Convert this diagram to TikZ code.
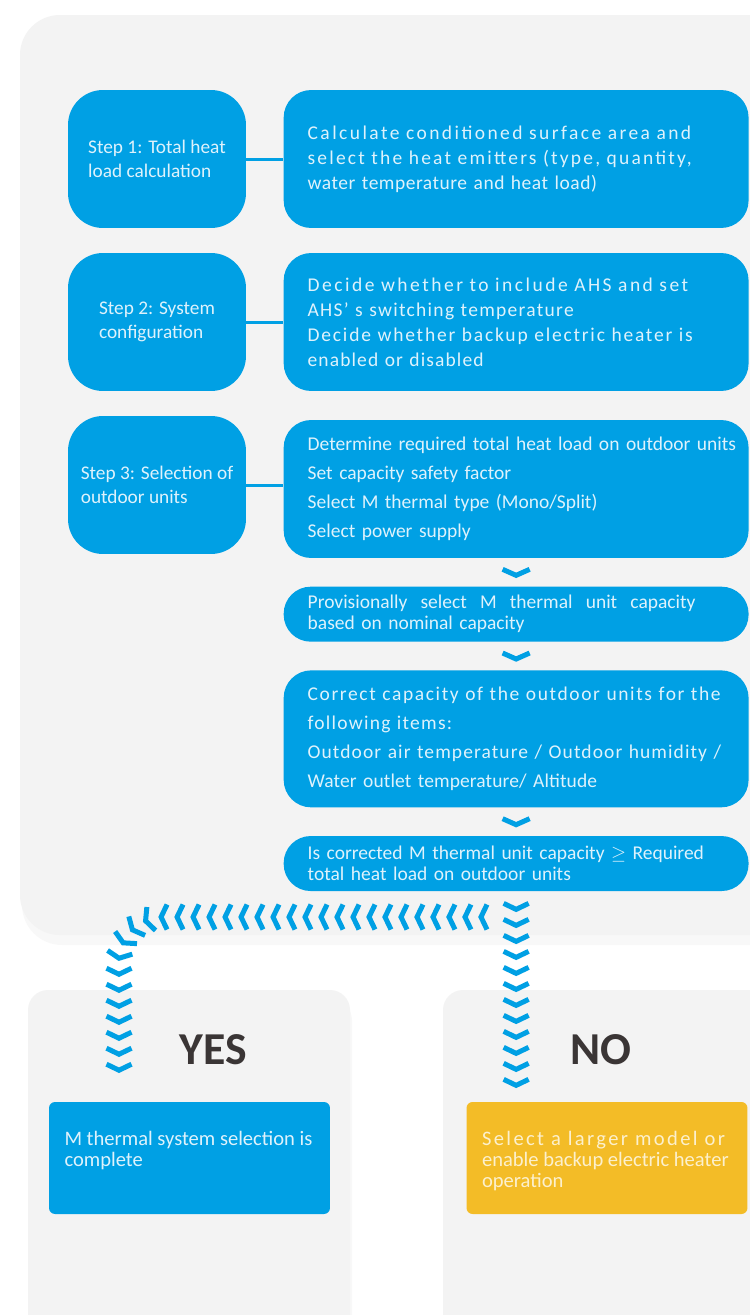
\documentclass[tikz,border=0pt]{standalone}
\usepackage{fontspec}
\setmainfont{Carlito}
\usepackage{tikz}
\usetikzlibrary{positioning, calc, decorations.markings, shadows}
\definecolor{mblue}{RGB}{0,160,228}
\definecolor{myellow}{RGB}{243,188,39}
\definecolor{panel}{RGB}{243,243,243}
\definecolor{softtext}{RGB}{222,242,252}
\definecolor{softcream}{RGB}{252,240,205}
\definecolor{darktext}{RGB}{58,53,53}
\tikzstyle{panelbox} = [fill=panel, draw=none, drop shadow={opacity=0.05, shadow xshift=0.04cm, shadow yshift=-0.2cm}]
\tikzstyle{chevron} = [draw=mblue, line width=0.1cm, sharp corners, miter limit=10]
\newcommand{\ls}[1]{\addfontfeature{LetterSpace=#1}}
\newcommand{\resulttext}[1]{\parbox[c][2.24cm][t]{5.0cm}{\raggedright\vspace*{0.58cm}#1}}

\begin{document}
\begin{tikzpicture}[x=0.02cm, y=-0.02cm, node distance=0.74cm,
		stepbox/.style={rectangle, fill=mblue, text=softtext, minimum width=3.56cm, minimum height=2.76cm, rounded corners=0.7cm, align=left, font=\fontsize{11}{13.6}\selectfont},
		detailbox/.style={rectangle, fill=mblue, text=softtext, text width=9.1cm, inner xsep=0.1cm, minimum height=2.76cm, rounded corners=0.55cm, align=left, execute at begin node={\leftskip=0.38cm}, font=\fontsize{11.1}{14.2}\selectfont},
		pillbox/.style={detailbox, minimum height=1.1cm, inner ysep=0.1cm, rounded corners=0.54cm, font=\fontsize{11.1}{11.9}\selectfont},
		resultbox/.style={rectangle, minimum width=5.62cm, minimum height=2.24cm, inner xsep=0.31cm, inner ysep=0pt, rounded corners=0.12cm, font=\fontsize{11.7}{12}\selectfont},
		answer/.style={text=darktext, font=\fontsize{26}{30}\selectfont\bfseries},
		link/.style={draw=mblue, line width=0.06cm},
		chevron chain/.style={decorate, decoration={markings, mark=between positions #1 and 1 step 0.32cm with {\draw[chevron] (-0.06cm,0.25cm) -- (0.06cm,0) -- (-0.06cm,-0.25cm);}}},
		chevron chain/.default=0cm,
		gap chevron/.style={decorate, decoration={markings, mark=at position 0.5 with {\draw[chevron] (-0.06cm,0.27cm) -- (0.06cm,0) -- (-0.06cm,-0.27cm);}}}]
		
		\useasboundingbox (0,0) rectangle (750,1315);
		\clip (0,0) rectangle (750,1315);
		\fill[white] (0,0) rectangle (750,1315);
		\path[panelbox, rounded corners=0.8cm] (20,15) rectangle (820,935);
		\path[panelbox, rounded corners=0.4cm] (28,990) rectangle (350,1380);
		\path[panelbox, rounded corners=0.4cm] (443,990) rectangle (820,1380);
		
		\node (step1) [stepbox] at (157,159) {Step 1: Total heat\\load calculation};
		\node (calc) [detailbox, right=of step1] {{\ls{12.5}Calculate conditioned surface area and}\\{\ls{11.3}select the heat emitters (type, quantity,}\\{\ls{2.6}water temperature and heat load)}};
		\node (step2) [stepbox] at (157,322) {Step 2: System\\configuration};
		\node (config) [detailbox, right=of step2] {{\ls{12.8}Decide whether to include AHS and set}\\{\ls{6.6}AHS’ s switching temperature}\\{\ls{9.2}Decide whether backup electric heater is}\\{\ls{5.7}enabled or disabled}};
		\node (step3) [stepbox] at (157,485) {Step 3: Selection of\\outdoor units};
		\node (units) [detailbox, right=of step3, yshift=-0.08cm, font=\fontsize{11.1}{16.4}\selectfont] {Determine required total heat load on outdoor units\\Set capacity safety factor\\Select M thermal type (Mono/Split)\\Select power supply};
		
		\draw[link] (step1) -- (calc);
		\draw[link] (step2) -- (config);
		\draw[link] (step3.east) -- (step3.east -| units.west);
		
		\node (prov) [pillbox, below=0.56cm of units] {\makebox[7.76cm][l]{Provisionally\hfill select\hfill M\hfill thermal\hfill unit\hfill capacity}\\based on nominal capacity};
		\node (correct) [detailbox, below=0.56cm of prov, minimum height=2.74cm, font=\fontsize{11.1}{16.4}\selectfont] {{\ls{8.3}Correct capacity of the outdoor units for the}\\{\ls{6.4}following items:}\\{\ls{5.6}Outdoor air temperature / Outdoor humidity /}\\{\ls{0.5}Water outlet temperature/ Altitude}};
		\node (check) [pillbox, below=0.56cm of correct] {Is corrected M thermal unit capacity $\geq$ Required\\total heat load on outdoor units};
		
		\path[gap chevron] (units.south) -- (units.south |- prov.north);
		\path[gap chevron] (prov.south) -- (prov.south |- correct.north);
		\path[gap chevron] (correct.south) -- (correct.south |- check.north);
		
		\node (yes) [answer] at (213,1050) {YES};
		\node (no) [answer] at (601,1050) {NO};
		\node (done) [resultbox, fill=mblue, text=softtext] at (189.5,1158) {\resulttext{M thermal system selection is\\complete}};
		\node (larger) [resultbox, fill=myellow, text=softcream] at (607,1158) {\resulttext{{\ls{11.5}Select a larger model or}\\enable backup electric heater\\operation}};
		
		\coordinate (fork) at (484,917);
		\coordinate (yes end) at (119,1082);
		\coordinate (no end) at ($(check.south)+(0,192)$);
		\path[chevron chain=0.3cm] (check.south) -- (no end);
		\path[chevron chain, rounded corners=0.9cm] (fork) -| (yes end);
	\end{tikzpicture}
\end{document}
